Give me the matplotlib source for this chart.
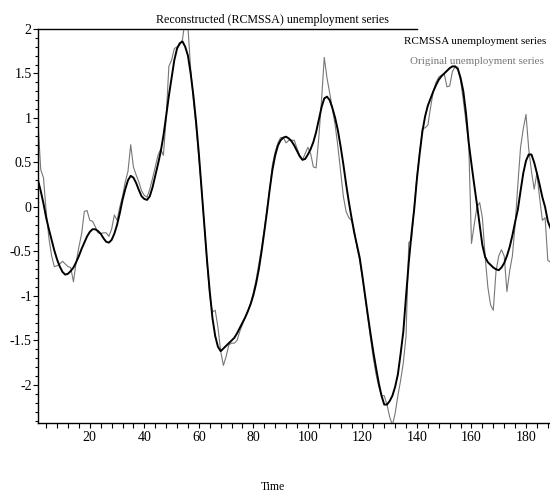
import matplotlib
matplotlib.use("Agg")
import matplotlib.pyplot as plt
from matplotlib.ticker import MultipleLocator, FormatStrFormatter
import numpy as np

# time index 1..189
time = np.arange(1, 190)

rcmssa = [
    0.30, 0.18, 0.04, -0.12, -0.25, -0.37, -0.49, -0.59, -0.67, -0.73,
    -0.76, -0.75, -0.72, -0.68, -0.62, -0.55, -0.47, -0.40, -0.33, -0.28,
    -0.25, -0.25, -0.27, -0.30, -0.35, -0.39, -0.40, -0.37, -0.30, -0.20,
    -0.07, 0.08, 0.20, 0.30, 0.35, 0.33, 0.27, 0.19, 0.12, 0.09,
    0.08, 0.12, 0.22, 0.35, 0.48, 0.62, 0.80, 1.02, 1.25, 1.45,
    1.65, 1.78, 1.84, 1.86, 1.80, 1.70, 1.50, 1.25, 0.95, 0.60,
    0.20, -0.20, -0.60, -0.95, -1.25, -1.45, -1.57, -1.62, -1.59, -1.56,
    -1.53, -1.50, -1.47, -1.42, -1.36, -1.30, -1.24, -1.17, -1.09, -0.99,
    -0.86, -0.70, -0.50, -0.28, -0.05, 0.20, 0.42, 0.58, 0.69, 0.75,
    0.78, 0.79, 0.77, 0.74, 0.69, 0.63, 0.57, 0.53, 0.54, 0.59,
    0.65, 0.73, 0.84, 0.98, 1.12, 1.22, 1.24, 1.20, 1.11, 1.00,
    0.86, 0.68, 0.48, 0.26, 0.06, -0.12, -0.29, -0.43, -0.57, -0.78,
    -1.00, -1.22, -1.43, -1.63, -1.81, -1.98, -2.12, -2.22, -2.22, -2.18,
    -2.12, -2.02, -1.88, -1.65, -1.40, -1.00, -0.62, -0.30, -0.02, 0.32,
    0.60, 0.85, 1.02, 1.14, 1.22, 1.30, 1.37, 1.43, 1.47, 1.50,
    1.53, 1.56, 1.58, 1.58, 1.55, 1.45, 1.30, 1.05, 0.72, 0.48,
    0.25, 0.03, -0.20, -0.43, -0.56, -0.62, -0.65, -0.68, -0.70, -0.71,
    -0.68, -0.63, -0.55, -0.45, -0.32, -0.17, -0.03, 0.18, 0.38, 0.52,
    0.59, 0.59, 0.50, 0.38, 0.25, 0.11, 0.00, -0.16, -0.24,
]

original = [
    0.95, 0.42, 0.33, -0.05, -0.35, -0.55, -0.67, -0.66, -0.64, -0.61,
    -0.64, -0.67, -0.68, -0.84, -0.62, -0.45, -0.30, -0.05, -0.04, -0.15,
    -0.16, -0.22, -0.29, -0.30, -0.29, -0.29, -0.33, -0.25, -0.09, -0.15,
    0.00, 0.12, 0.28, 0.40, 0.70, 0.45, 0.36, 0.28, 0.18, 0.13,
    0.11, 0.20, 0.32, 0.45, 0.58, 0.65, 0.58, 1.00, 1.58, 1.65,
    1.78, 1.80, 1.82, 1.88, 2.12, 2.02, 1.55, 1.20, 0.90, 0.55,
    0.20, -0.20, -0.62, -1.00, -1.18, -1.16, -1.35, -1.62, -1.78, -1.68,
    -1.55, -1.53, -1.53, -1.50, -1.40, -1.32, -1.24, -1.16, -1.08, -0.96,
    -0.82, -0.64, -0.46, -0.25, -0.02, 0.20, 0.48, 0.62, 0.72, 0.78,
    0.78, 0.72, 0.75, 0.75, 0.75, 0.66, 0.58, 0.53, 0.60, 0.67,
    0.60, 0.45, 0.44, 0.78, 1.20, 1.68, 1.45, 1.28, 1.10, 0.92,
    0.68, 0.40, 0.12, -0.05, -0.12, -0.15, -0.26, -0.45, -0.60, -0.80,
    -1.02, -1.25, -1.48, -1.70, -1.88, -2.02, -2.12, -2.12, -2.22, -2.36,
    -2.45, -2.32, -2.12, -1.95, -1.75, -1.45, -0.40, -0.37, 0.00, 0.35,
    0.62, 0.88, 0.89, 0.92, 1.12, 1.30, 1.40, 1.46, 1.48, 1.50,
    1.35, 1.36, 1.52, 1.58, 1.57, 1.42, 1.20, 0.95, 0.70, -0.41,
    -0.20, 0.00, 0.05, -0.12, -0.55, -0.90, -1.10, -1.16, -0.72, -0.55,
    -0.48, -0.55, -0.95, -0.72, -0.55, -0.20, 0.25, 0.67, 0.88, 1.04,
    0.65, 0.40, 0.20, 0.38, 0.10, -0.15, -0.12, -0.60, -0.62,
]

title = "Reconstructed (RCMSSA) unemployment series"
legend_labels = ["RCMSSA unemployment series", "Original unemployment series"]

plt.rcParams['font.family'] = ['Liberation Serif', 'DejaVu Serif']
plt.rcParams['axes.unicode_minus'] = False

fig = plt.figure(figsize=(5.5, 4.95), dpi=100)
ax = fig.add_axes([38 / 550, 72 / 495, 512 / 550, 394 / 495])

ax.plot(time, original, color='#777777', lw=0.8)
ax.plot(time, rcmssa, color='black', lw=1.4)

ax.set_xlim(1, 188.8)
ax.set_ylim(-2.427, 2)

for s in ['top', 'right']:
    ax.spines[s].set_visible(False)
for s in ['left', 'bottom']:
    ax.spines[s].set_linewidth(1.0)
# partial top line as in the original
ax.axhline(2, xmin=0, xmax=0.74, color='black', lw=1.0, clip_on=False)

ax.xaxis.set_major_locator(MultipleLocator(20))
ax.xaxis.set_minor_locator(MultipleLocator(4))
ax.yaxis.set_major_locator(MultipleLocator(0.5))
ax.yaxis.set_minor_locator(MultipleLocator(0.1))
ax.yaxis.set_major_formatter(FormatStrFormatter('%g'))
ax.tick_params(axis='x', which='both', direction='out', length=3.5, width=0.8,
               labelsize=10, pad=2)
ax.tick_params(axis='y', which='major', direction='out', length=3.5, width=0.8,
               labelsize=10, pad=1)
ax.tick_params(axis='y', which='minor', direction='out', length=2.2, width=0.8)

fig.text(272 / 550, 1 - 20 / 495, title, ha='center', va='center', fontsize=8.6)
fig.text(404 / 550, 1 - 42 / 495, legend_labels[0], ha='left', va='center',
         fontsize=8, color='black')
fig.text(410 / 550, 1 - 62 / 495, legend_labels[1], ha='left', va='center',
         fontsize=7.9, color='#777777')
fig.text(273 / 550, 1 - 487 / 495, "Time", ha='center', va='center', fontsize=8.5)

fig.savefig("out.png", dpi=100)
